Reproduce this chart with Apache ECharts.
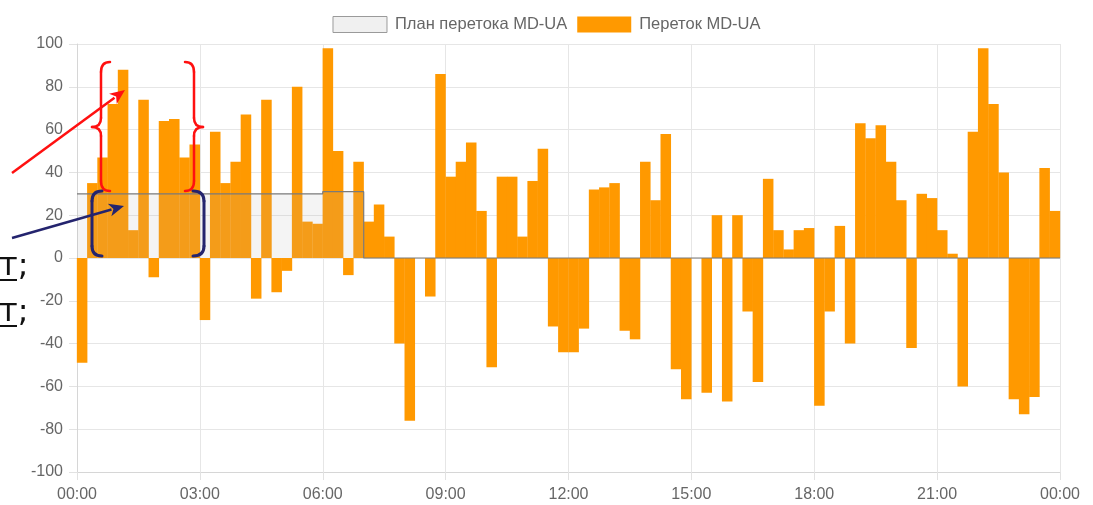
<!DOCTYPE html>
<html>
<head>
<meta charset="utf-8">
<script src="https://cdn.jsdelivr.net/npm/echarts@6/dist/echarts.min.js"></script>
<style>
html,body{margin:0;padding:0;background:#fff;}
#c{width:1093px;height:505px;}
</style>
</head>
<body>
<div id="c"></div>
<script>
// 15-minute intervals, 00:00 .. 24:00
const flowValues = [
  -49, 35, 47, 72, 88, 13, 74, -9, 64, 65, 47, 53,
  -29, 59, 35, 45, 67, -19, 74, -16, -6, 80, 17, 16,
  98, 50, -8, 45, 17, 25, 10, -40, -76, 0, -18, 86,
  38, 45, 54, 22, -51, 38, 38, 10, 36, 51, -32, -44,
  -44, -33, 32, 33, 35, -34, -38, 45, 27, 58, -52, -66,
  0, -63, 20, -67, 20, -25, -58, 37, 13, 4, 13, 14,
  -69, -25, 15, -40, 63, 56, 62, 45, 27, -42, 30, 28,
  13, 2, -60, 59, 98, 72, 40, -66, -73, -65, 42, 22
];
const planValues = [
  30, 30, 30, 30, 30, 30, 30, 30, 30, 30, 30, 30,
  30, 30, 30, 30, 30, 30, 30, 30, 30, 30, 30, 30,
  31, 31, 31, 31, 0, 0, 0, 0, 0, 0, 0, 0,
  0, 0, 0, 0, 0, 0, 0, 0, 0, 0, 0, 0,
  0, 0, 0, 0, 0, 0, 0, 0, 0, 0, 0, 0,
  0, 0, 0, 0, 0, 0, 0, 0, 0, 0, 0, 0,
  0, 0, 0, 0, 0, 0, 0, 0, 0, 0, 0, 0,
  0, 0, 0, 0, 0, 0, 0, 0, 0, 0, 0, 0
];
const xTickLabels = ['00:00','03:00','06:00','09:00','12:00','15:00','18:00','21:00','00:00'];
const planName = 'План перетока MD-UA';
const flowName = 'Переток MD-UA';
const stepMinutes = 15;

const GRID = {left: 77, right: 33, top: 44, bottom: 33};
const plotWidth = 1093 - GRID.left - GRID.right;
const barW = plotWidth / flowValues.length;

const flowData = flowValues.map((v, i) => [i * stepMinutes + stepMinutes / 2, v]);
const planData = planValues.map((v, i) => [i * stepMinutes, v]);
planData.push([planValues.length * stepMinutes, planValues[planValues.length - 1]]);

function arrow(x1, y1, x2, y2, color, w) {
  const dx = x2 - x1, dy = y2 - y1, L = Math.hypot(dx, dy);
  const ux = dx / L, uy = dy / L, nx = -uy, ny = ux;
  const hl = 15, hw = 6.5;
  const bx = x2 - ux * hl, by = y2 - uy * hl;
  return [
    {type: 'line', z: 100, shape: {x1: x1, y1: y1, x2: bx + ux * 2, y2: by + uy * 2},
     style: {stroke: color, lineWidth: w}},
    {type: 'polygon', z: 100, shape: {points: [[x2, y2], [bx + nx * hw, by + ny * hw], [bx + ux * 4, by + uy * 4], [bx - nx * hw, by - ny * hw]]},
     style: {fill: color}}
  ];
}

// segments: ['L', x1,y1,x2,y2] or ['Q', x1,y1,cx,cy,x2,y2]
function strokeSegs(segs, color, w) {
  return segs.map(s => s[0] === 'L'
    ? {type: 'line', z: 100, shape: {x1: s[1], y1: s[2], x2: s[3], y2: s[4]}, style: {stroke: color, lineWidth: w, lineCap: 'round'}}
    : {type: 'bezierCurve', z: 100, shape: {x1: s[1], y1: s[2], cpx1: s[3], cpy1: s[4], x2: s[5], y2: s[6]}, style: {stroke: color, lineWidth: w, fill: null, lineCap: 'round'}});
}
function brace(xEnd, xV, xTip, yTop, yMid, yBot, color, w) {
  return strokeSegs([
    ['Q', xEnd, yTop, xV, yTop, xV, yTop + 10],
    ['L', xV, yTop + 10, xV, yMid - 9],
    ['Q', xV, yMid - 9, xV, yMid, xTip, yMid],
    ['Q', xTip, yMid, xV, yMid, xV, yMid + 9],
    ['L', xV, yMid + 9, xV, yBot - 10],
    ['Q', xV, yBot - 10, xV, yBot, xEnd, yBot]
  ], color, w);
}
function bracket(xEnd, xV, yTop, yBot, color, w) {
  return strokeSegs([
    ['Q', xEnd, yTop, xV, yTop, xV, yTop + 10],
    ['L', xV, yTop + 10, xV, yBot - 10],
    ['Q', xV, yBot - 10, xV, yBot, xEnd, yBot]
  ], color, w);
}

const red = '#ff1010';
const navy = '#24246e';
const graphics = [
  ...brace(110, 101, 92, 62, 127, 191, red, 2.5),
  ...brace(185, 194, 203, 62, 127, 191, red, 2.5),
  ...bracket(102, 92, 191, 256, navy, 3),
  ...bracket(193, 204, 191, 256, navy, 3),
  ...arrow(12, 173, 125, 90, red, 2.5),
  ...arrow(12, 238, 124, 206, navy, 2.5),
  {type: 'text', z: 100, x: -1, y: 251, style: {text: 'т;', font: '32px "DejaVu Sans"', fill: '#111'}},
  {type: 'line', z: 100, shape: {x1: 0, y1: 280, x2: 17, y2: 280}, style: {stroke: '#111', lineWidth: 2}},
  {type: 'text', z: 100, x: -1, y: 297, style: {text: 'т;', font: '32px "DejaVu Sans"', fill: '#111'}},
  {type: 'line', z: 100, shape: {x1: 0, y1: 326, x2: 17, y2: 326}, style: {stroke: '#111', lineWidth: 2}}
];

const chart = echarts.init(document.getElementById('c'), null, {renderer: 'canvas'});
chart.setOption({
  animation: false,
  backgroundColor: '#ffffff',
  textStyle: {fontFamily: '"Liberation Sans", Arial, sans-serif'},
  legend: {
    top: 11,
    left: 'center',
    itemWidth: 54,
    itemHeight: 16,
    itemGap: 10,
    textStyle: {color: '#666', fontSize: 16.5, padding: [0, 0, 0, 3]},
    data: [
      {name: planName, icon: 'rect', itemStyle: {color: '#f0f0f0', borderColor: '#9a9a9a', borderWidth: 1}},
      {name: flowName, icon: 'rect', itemStyle: {color: '#ff9900'}}
    ]
  },
  grid: {left: GRID.left, right: GRID.right, top: GRID.top, bottom: GRID.bottom, containLabel: false},
  xAxis: {
    type: 'value',
    min: 0, max: 1440, interval: 180,
    axisLine: {show: true, onZero: false, lineStyle: {color: '#d6d6d6'}},
    axisTick: {show: true, length: 8, lineStyle: {color: '#e2e2e2'}},
    axisLabel: {color: '#666', fontSize: 16, margin: 15,
      formatter: v => xTickLabels[Math.round(v / 180)]},
    splitLine: {show: true, lineStyle: {color: '#e6e6e6'}}
  },
  yAxis: {
    type: 'value',
    min: -100, max: 100, interval: 20,
    axisLine: {show: true, lineStyle: {color: '#d6d6d6'}},
    axisTick: {show: true, length: 8, lineStyle: {color: '#e2e2e2'}},
    axisLabel: {color: '#666', fontSize: 16, margin: 14},
    splitLine: {show: true, lineStyle: {color: '#e6e6e6'}}
  },
  series: [
    {
      name: flowName,
      type: 'bar',
      data: flowData,
      barWidth: barW + 0.3,
      itemStyle: {color: '#ff9900'},
      z: 2
    },
    {
      name: planName,
      type: 'line',
      step: 'end',
      data: planData,
      symbol: 'none',
      lineStyle: {color: '#7a7a7a', width: 1.2},
      itemStyle: {color: '#f0f0f0', borderColor: '#9a9a9a'},
      areaStyle: {color: 'rgba(175,175,175,0.2)', origin: 0},
      z: 3
    }
  ],
  graphic: graphics
});
</script>
</body>
</html>
